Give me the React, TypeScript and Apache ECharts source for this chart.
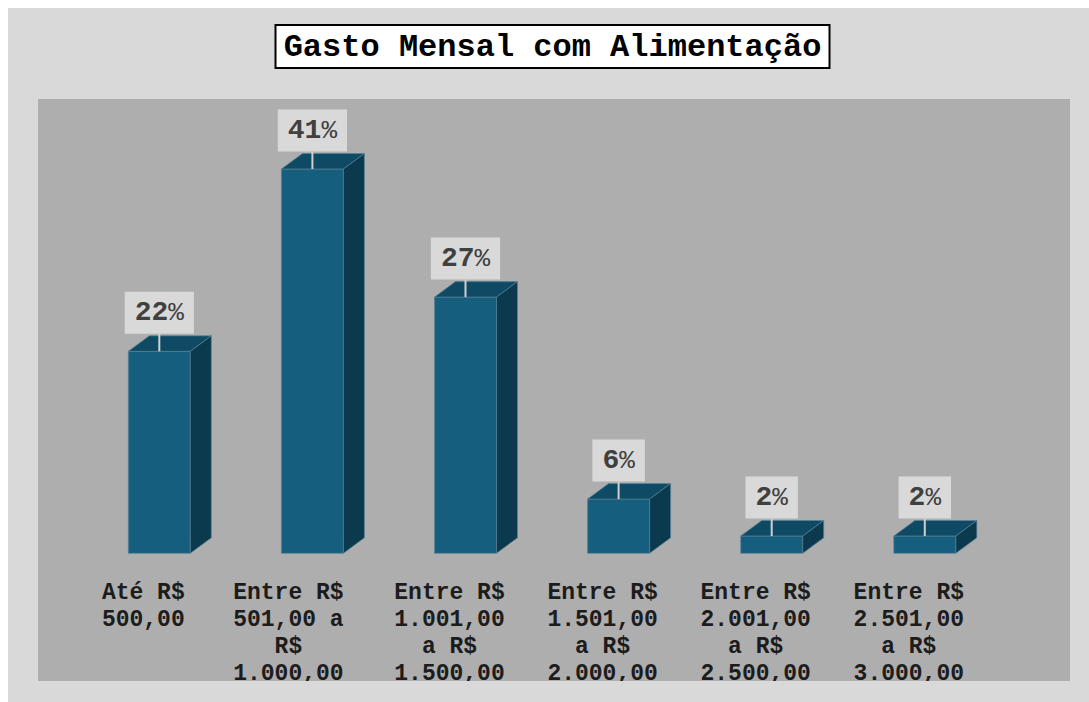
import React, { useEffect, useRef } from "react";
import * as echarts from "echarts";

const categories = [
  "Até R$\n500,00",
  "Entre R$\n501,00 a\nR$\n1.000,00",
  "Entre R$\n1.001,00\na R$\n1.500,00",
  "Entre R$\n1.501,00\na R$\n2.000,00",
  "Entre R$\n2.001,00\na R$\n2.500,00",
  "Entre R$\n2.501,00\na R$\n3.000,00",
];
const values = [21.6, 41.1, 27.4, 5.8, 1.85, 1.85];
const pctLabels = ["22", "41", "27", "6", "2", "2"];
const titleText = "Gasto Mensal com Alimentação";

const OUTER = "#d9d9d9";
const PLOT = "#aeaeae";
const FRONT = "#155e7d";
const TOP = "#0f4a65";
const SIDE = "#0b3a4e";

export default function App() {
  const ref = useRef<HTMLDivElement>(null);
  useEffect(() => {
    if (!ref.current) return;
    const chart = echarts.init(ref.current, null, { renderer: "svg" });
    const labelFont = {
      fontFamily: "Liberation Mono",
      fontWeight: "bold" as const,
      fontSize: 23,
      lineHeight: 27,
      color: "#1c1c1c",
    };
    chart.setOption({
      animation: false,
      backgroundColor: OUTER,
      title: {
        text: titleText,
        left: "center",
        top: 17,
        padding: [5, 8, 4, 8],
        backgroundColor: "#ffffff",
        borderColor: "#000000",
        borderWidth: 2,
        textStyle: {
          fontFamily: "Liberation Mono",
          fontWeight: "bold",
          fontSize: 32,
          lineHeight: 34,
          color: "#000000",
        },
      },
      graphic: [
        {
          type: "rect",
          z: -10,
          silent: true,
          shape: { x: 30, y: 91, width: 1032, height: 582 },
          style: { fill: PLOT },
        },
        {
          type: "rect",
          z: 100,
          silent: true,
          shape: { x: 0, y: 673, width: 1089, height: 40 },
          style: { fill: OUTER },
        },
      ],
      grid: { left: 58.75, width: 918.6, top: 77.8, bottom: 156.7 },
      xAxis: {
        type: "category",
        data: categories,
        axisLine: { show: false },
        axisTick: { show: false },
        splitLine: { show: false },
        axisLabel: {
          interval: 0,
          margin: 26,
          align: "center",
          ...labelFont,
          formatter: (v: string, i: number) =>
            i === 1
              ? v
                  .split("\n")
                  .map((l) => `{s|${l}}`)
                  .join("\n")
              : v,
          rich: {
            s: { ...labelFont, padding: [0, 16, 0, 0] },
          },
        },
      },
      yAxis: {
        type: "value",
        min: 0,
        max: 50,
        show: false,
        splitLine: { show: false },
      },
      series: [
        {
          type: "custom",
          data: values.map((v, i) => [i, v]),
          encode: { x: 0, y: 1 },
          renderItem: (params: any, api: any) => {
            const i = api.value(0);
            const v = api.value(1);
            const base = api.coord([i, 0]);
            const top = api.coord([i, v]);
            const w = 62;
            const x0 = base[0] - 15;
            const x1 = x0 + w;
            const yb = base[1];
            const yt = top[1];
            const dx = 21;
            const dy = -15.5;
            const fc = x0 + w / 2;
            const boxBottom = yt + dy - 2;
            const edge = { stroke: "rgba(90,130,150,0.7)", lineWidth: 1 };
            return {
              type: "group",
              children: [
                {
                  type: "rect",
                  shape: { x: x0, y: yt, width: w, height: yb - yt },
                  style: { fill: FRONT, ...edge },
                },
                {
                  type: "polygon",
                  shape: {
                    points: [
                      [x0, yt],
                      [x0 + dx, yt + dy],
                      [x1 + dx, yt + dy],
                      [x1, yt],
                    ],
                  },
                  style: { fill: TOP, ...edge },
                },
                {
                  type: "polygon",
                  shape: {
                    points: [
                      [x1, yt],
                      [x1 + dx, yt + dy],
                      [x1 + dx, yb + dy],
                      [x1, yb],
                    ],
                  },
                  style: { fill: SIDE, ...edge },
                },
                {
                  type: "line",
                  shape: { x1: fc, y1: boxBottom, x2: fc, y2: yt },
                  style: { stroke: "#cfcfcf", lineWidth: 2 },
                },
                {
                  type: "text",
                  x: fc,
                  y: boxBottom,
                  style: {
                    text: `{n|${pctLabels[i]}}{p|%}`,
                    align: "center",
                    verticalAlign: "bottom",
                    backgroundColor: OUTER,
                    padding: [7, 10, 7, 10],
                    fill: "#404040",
                    rich: {
                      n: {
                        fontFamily: "Liberation Mono",
                        fontWeight: "bold",
                        fontSize: 28,
                        lineHeight: 28,
                        fill: "#404040",
                      },
                      p: {
                        fontFamily: "Liberation Mono",
                        fontWeight: "normal",
                        fontSize: 26,
                        lineHeight: 28,
                        fill: "#404040",
                      },
                    },
                  },
                },
              ],
            };
          },
        },
      ],
    });
    return () => chart.dispose();
  }, []);
  return (
    <div
      style={{
        position: "fixed",
        left: 8,
        top: 8,
        width: 1081,
        height: 694,
        overflow: "hidden",
      }}
    >
      <div ref={ref} style={{ width: 1089, height: 702 }} />
    </div>
  );
}
